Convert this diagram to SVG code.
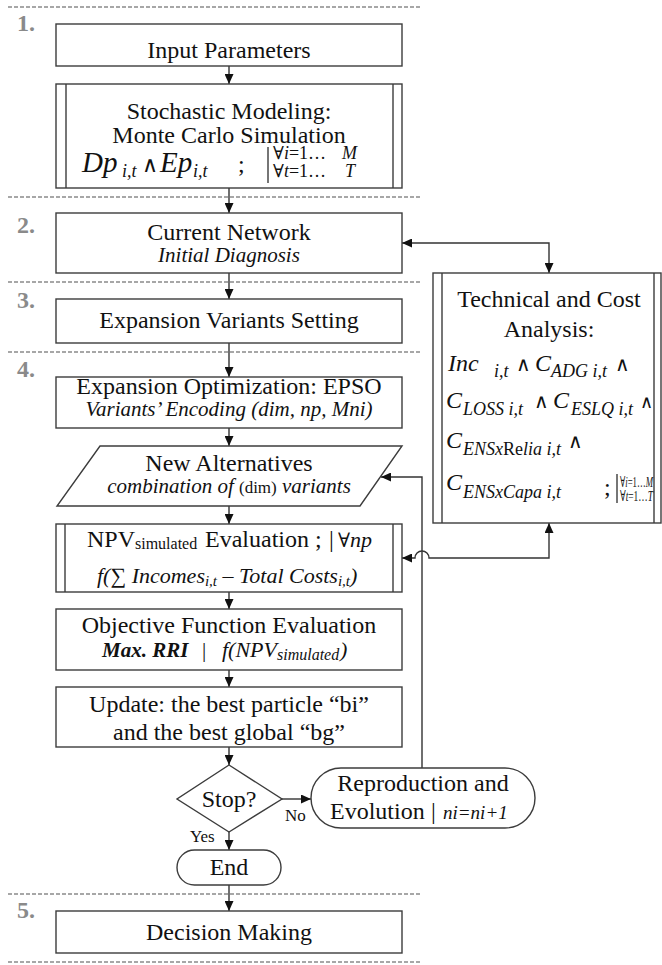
<svg xmlns="http://www.w3.org/2000/svg" width="662" height="965" viewBox="0 0 662 965">
  <style>
    .box { fill: #fff; stroke: #3c3c3c; stroke-width: 1.4; }
    .bar { stroke: #3c3c3c; stroke-width: 1.4; }
    .sep { stroke: #8a8a8a; stroke-width: 1.6; stroke-dasharray: 4 2; }
    .num { font-family: "Liberation Serif", serif; font-weight: bold; font-size: 24px; fill: #8a8a8a; }
    .t { font-family: "Liberation Serif", serif; font-size: 24px; fill: #111; }
    .c { text-anchor: middle; }
    .i { font-style: italic; }
    .op { font-family: "DejaVu Serif", "Liberation Serif", serif; }
    .and { font-family: "DejaVu Sans", sans-serif; font-weight: 200; }
    .wire { fill: none; stroke: #333; stroke-width: 1.4; }
    .arr { marker-end: url(#ah); }
    .both { marker-start: url(#ah); marker-end: url(#ah); }
  </style>
  <defs>
    <marker id="ah" markerUnits="userSpaceOnUse" markerWidth="11" markerHeight="9" refX="10" refY="4.5" orient="auto-start-reverse">
      <path d="M0,0 L10,4.5 L0,9 z" fill="#111"/>
    </marker>
  </defs>

  <!-- phase separators -->
  <g id="separators">
    <line class="sep" x1="8" y1="7" x2="420" y2="7"/>
    <line class="sep" x1="8" y1="197" x2="420" y2="197"/>
    <line class="sep" x1="8" y1="282" x2="420" y2="282"/>
    <line class="sep" x1="8" y1="352" x2="420" y2="352"/>
    <line class="sep" x1="8" y1="894" x2="420" y2="894"/>
    <line class="sep" x1="8" y1="962" x2="420" y2="962"/>
  </g>

  <!-- phase numbers -->
  <g id="phase-numbers">
    <text class="num" x="17" y="31">1.</text>
    <text class="num" x="17" y="233">2.</text>
    <text class="num" x="17" y="308">3.</text>
    <text class="num" x="17" y="377">4.</text>
    <text class="num" x="17" y="918">5.</text>
  </g>

  <!-- connectors -->
  <g id="connectors">
    <line class="wire arr" x1="229" y1="66" x2="229" y2="84"/>
    <line class="wire arr" x1="229" y1="188" x2="229" y2="213"/>
    <line class="wire arr" x1="229" y1="273" x2="229" y2="299"/>
    <line class="wire arr" x1="229" y1="343" x2="229" y2="377"/>
    <line class="wire arr" x1="229" y1="428" x2="229" y2="446"/>
    <line class="wire arr" x1="229" y1="506" x2="229" y2="524"/>
    <line class="wire arr" x1="229" y1="592" x2="229" y2="609"/>
    <line class="wire arr" x1="229" y1="670" x2="229" y2="687"/>
    <line class="wire arr" x1="229" y1="747" x2="229" y2="765"/>
    <line class="wire arr" x1="229" y1="832" x2="229" y2="850"/>
    <line class="wire arr" x1="229" y1="885" x2="229" y2="911"/>
    <line class="wire arr" x1="282" y1="799" x2="311" y2="799"/>
    <path class="wire arr" d="M422,768 V477 H381"/>
    <path class="wire both" d="M402,243 H549 V273"/>
    <path class="wire both" d="M402,558 H415 A7,7 0 0 1 429,558 H549 V523"/>
  </g>

  <g id="input-parameters">
    <rect class="box" x="56" y="24" width="346" height="42"/>
    <text class="t c" x="229" y="58">Input Parameters</text>
  </g>

  <g id="stochastic-modeling">
    <rect class="box" x="56" y="84" width="346" height="104"/>
    <line class="bar" x1="66" y1="84" x2="66" y2="188"/>
    <line class="bar" x1="393" y1="84" x2="393" y2="188"/>
    <text class="t c" x="229" y="119">Stochastic Modeling:</text>
    <text class="t c" x="229" y="143">Monte Carlo Simulation</text>
    <text class="t i" x="82" y="172" style="font-size:29px">Dp</text>
    <text class="t i" x="122" y="177" style="font-size:18px">i,t</text>
    <text class="t and" x="142" y="172" style="font-size:22px">∧</text>
    <text class="t i" x="160" y="172" style="font-size:29px">Ep</text>
    <text class="t i" x="193" y="177" style="font-size:18px">i,t</text>
    <text class="t" x="238" y="172">;</text>
    <line class="bar" x1="268" y1="147" x2="268" y2="183" stroke-width="1.8"/>
    <text class="t" x="273" y="159" style="font-size:18px"><tspan class="op">∀</tspan><tspan class="i">i</tspan>=1…</text>
    <text class="t i" x="342" y="159" style="font-size:18px">M</text>
    <text class="t" x="273" y="177" style="font-size:18px"><tspan class="op">∀</tspan><tspan class="i">t</tspan>=1…</text>
    <text class="t i" x="345" y="177" style="font-size:18px">T</text>
  </g>

  <g id="current-network">
    <rect class="box" x="56" y="213" width="346" height="60"/>
    <text class="t c" x="229" y="240">Current Network</text>
    <text class="t c i" x="229" y="262" style="font-size:21px">Initial Diagnosis</text>
  </g>

  <g id="technical-cost-analysis">
    <rect class="box" x="433" y="273" width="228" height="250"/>
    <line class="bar" x1="442" y1="273" x2="442" y2="523"/>
    <line class="bar" x1="654" y1="273" x2="654" y2="523"/>
    <text class="t c" x="549" y="307">Technical and Cost</text>
    <text class="t c" x="549" y="337">Analysis:</text>
    <text class="t i" x="448" y="371">Inc</text>
    <text class="t i" x="494" y="377" style="font-size:18px">i,t</text>
    <text class="t and" x="516" y="371" style="font-size:20px">∧</text>
    <text class="t i" x="535" y="371">C</text>
    <text class="t i" x="551" y="377" style="font-size:18px">ADG i,t</text>
    <text class="t and" x="615" y="371" style="font-size:20px">∧</text>
    <text class="t i" x="446" y="408">C</text>
    <text class="t i" x="463" y="415" style="font-size:18px">LOSS i,t</text>
    <text class="t and" x="534" y="408" style="font-size:20px">∧</text>
    <text class="t i" x="553" y="408">C</text>
    <text class="t i" x="571" y="415" style="font-size:18px">ESLQ i,t</text>
    <text class="t and" x="640" y="408" style="font-size:18px">∧</text>
    <text class="t i" x="446" y="448">C</text>
    <text class="t i" x="463" y="455" style="font-size:18px">ENSx<tspan font-style="normal">Re</tspan>lia i,t</text>
    <text class="t and" x="568" y="448" style="font-size:20px">∧</text>
    <text class="t i" x="446" y="490">C</text>
    <text class="t i" x="463" y="498" style="font-size:18px">ENSxCapa i,t</text>
    <text class="t" x="604" y="495">;</text>
    <line class="bar" x1="617" y1="474" x2="617" y2="503" stroke-width="1.8"/>
    <text class="t" x="620" y="487" style="font-size:15px" textLength="33" lengthAdjust="spacingAndGlyphs"><tspan class="op">∀</tspan><tspan class="i">i</tspan>=1…<tspan class="i">M</tspan></text>
    <text class="t" x="620" y="501" style="font-size:15px" textLength="33" lengthAdjust="spacingAndGlyphs"><tspan class="op">∀</tspan><tspan class="i">t</tspan>=1…<tspan class="i">T</tspan></text>
  </g>

  <g id="expansion-variants-setting">
    <rect class="box" x="56" y="299" width="346" height="44"/>
    <text class="t c" x="229" y="328">Expansion Variants Setting</text>
  </g>

  <g id="expansion-optimization">
    <rect class="box" x="56" y="377" width="346" height="51"/>
    <text class="t c" x="229" y="394">Expansion Optimization: EPSO</text>
    <text class="t c i" x="229" y="416" style="font-size:21px">Variants’ Encoding (dim, np, Mni)</text>
  </g>

  <g id="new-alternatives">
    <polygon class="box" points="100,446 402,446 360,506 57,506"/>
    <text class="t c" x="229" y="471">New Alternatives</text>
    <text class="t c i" x="229" y="493" style="font-size:21px">combination of <tspan style="font-style:normal;font-size:17px">(dim)</tspan> variants</text>
  </g>

  <g id="npv-evaluation">
    <rect class="box" x="56" y="524" width="346" height="68"/>
    <line class="bar" x1="65" y1="524" x2="65" y2="592"/>
    <line class="bar" x1="393" y1="524" x2="393" y2="592"/>
    <text class="t" x="87" y="547">NPV</text>
    <text class="t" x="135" y="549" style="font-size:16px">simulated</text>
    <text class="t" x="205" y="547">Evaluation ;</text>
    <text class="t" x="329" y="547">|</text>
    <text class="t" x="338" y="547" style="font-size:22px"><tspan class="op" style="font-size:20px">∀</tspan><tspan class="i">np</tspan></text>
    <text class="t i" x="97" y="583" style="font-size:22px">f(<tspan style="font-style:normal">∑</tspan> Incomes<tspan style="font-size:15px" dy="3">i,t</tspan><tspan dy="-3"> – Total Costs</tspan><tspan style="font-size:15px" dy="3">i,t</tspan><tspan dy="-3">)</tspan></text>
  </g>

  <g id="objective-function">
    <rect class="box" x="56" y="609" width="346" height="61"/>
    <text class="t c" x="229" y="633">Objective Function Evaluation</text>
    <text class="t i" x="102" y="657" style="font-size:21px;font-weight:bold">Max. RRI</text>
    <text class="t" x="202" y="657" style="font-size:21px">|</text>
    <text class="t i" x="222" y="657" style="font-size:22px">f(NPV</text>
    <text class="t i" x="277" y="660" style="font-size:16px">simulated</text>
    <text class="t i" x="340" y="657" style="font-size:22px">)</text>
  </g>

  <g id="update-best">
    <rect class="box" x="56" y="687" width="346" height="60"/>
    <text class="t c" x="229" y="712">Update: the best particle “bi”</text>
    <text class="t c" x="229" y="740">and the best global “bg”</text>
  </g>

  <g id="stop-decision">
    <polygon class="box" points="229,765 282,799 229,832 177,799"/>
    <text class="t c" x="229" y="807">Stop?</text>
    <text class="t" x="285" y="821" style="font-size:17px">No</text>
    <text class="t" x="190" y="842" style="font-size:17px">Yes</text>
  </g>

  <g id="reproduction-evolution">
    <rect class="box" x="311" y="768" width="224" height="60" rx="30" ry="30"/>
    <text class="t c" x="423" y="791">Reproduction and</text>
    <text class="t" x="330" y="819">Evolution</text>
    <text class="t" x="431" y="819">|</text>
    <text class="t i" x="443" y="819" style="font-size:19px">ni=ni+1</text>
  </g>

  <g id="end">
    <rect class="box" x="177" y="850" width="104" height="35" rx="17.5" ry="17.5"/>
    <text class="t c" x="229" y="875">End</text>
  </g>

  <g id="decision-making">
    <rect class="box" x="56" y="911" width="346" height="42"/>
    <text class="t c" x="229" y="940">Decision Making</text>
  </g>
</svg>
